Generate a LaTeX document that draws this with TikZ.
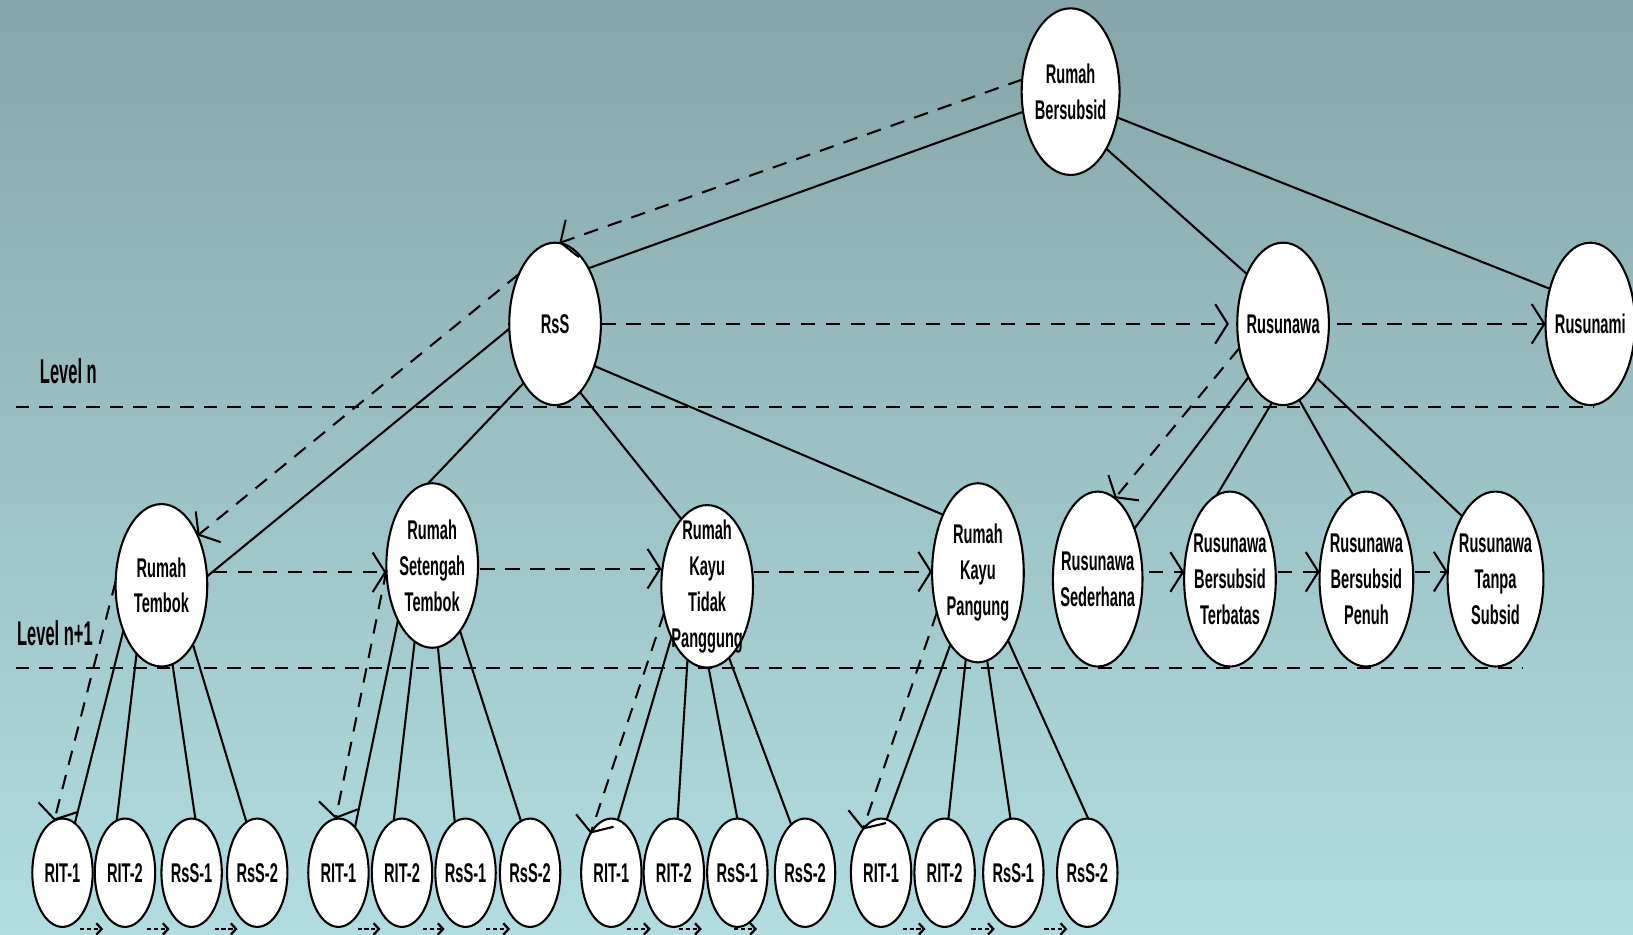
\documentclass[tikz,border=0pt]{standalone}
\usepackage{fontspec}
\newfontfamily\lblfont{Liberation Sans}[FakeStretch=0.54]
\newfontfamily\lvlfont{Liberation Sans}[FakeStretch=0.48]
\usetikzlibrary{shapes.geometric,arrows.meta,calc}
\definecolor{bgtop}{RGB}{134,166,169}
\definecolor{bgbot}{RGB}{177,221,225}
\tikzset{
  oval/.style 2 args={ellipse, draw=black, line width=1pt, fill=white,
    inner sep=0pt, outer sep=0pt, minimum width=#1*0.5pt, minimum height=#2*0.5pt},
  big/.style={oval={88}{156}},
  leaf/.style={oval={58}{104}},
  txt/.style={font=\lblfont\bfseries\fontsize{13}{17.2}\selectfont,
    align=center, inner sep=0pt},
  lvltxt/.style={font=\lvlfont\bfseries\fontsize{16.5}{20}\selectfont,
    inner sep=0pt, anchor=west},
  edge/.style={line width=1pt},
  darr/.style={line width=1pt, dash pattern=on 7pt off 5pt,
    -{Straight Barb[length=6pt,width=19pt]}},
  tarr/.style={line width=1.1pt, dash pattern=on 2pt off 1.3pt,
    -{Straight Barb[length=2.5pt,width=5.5pt]}},
  lvl/.style={line width=1pt, dash pattern=on 6.5pt off 4.8pt},
}
\begin{document}
\begin{tikzpicture}[x=0.5pt,y=-0.5pt]
\useasboundingbox (0,0) rectangle (1568,897);
\clip (0,0) rectangle (1568,897);
\shade[top color=bgtop,bottom color=bgbot] (0,0) rectangle (1568,897);

% level separators
\draw[lvl] (15,391) -- (1530,391);
\draw[lvl] (15,641) -- (1462,641);
\node[lvltxt] (lvn) at (38,356) {Level n};
\node[lvltxt] (lvn1) at (16,608) {Level n+1};

% top levels
\node[oval={94}{160}] (rb) at (1028,88) {};
\node[big] (rss) at (533,311) {};
\node[big] (rsw) at (1232,311) {};
\node[oval={86}{156}] (rsm) at (1527,311) {};

% second level
\node[big] (rt) at (155,562) {};
\node[oval={88}{158}] (rst) at (415,543) {};
\node[big] (rktp) at (679,563) {};
\node[oval={88}{172}] (rkp) at (939,550) {};
\node[oval={86}{168}] (rs) at (1054,556) {};
\node[oval={88}{168}] (rbt) at (1181,556) {};
\node[oval={90}{168}] (rbp) at (1312,556) {};
\node[oval={92}{168}] (rts) at (1436,556) {};

% leaves
\foreach \n/\x in {a1/60,a2/120,a3/184,a4/247,
                   b1/325,b2/386,b3/447,b4/509,
                   c1/587,c2/647,c3/708,c4/773,
                   d1/846,d2/907,d3/973,d4/1044}
  \node[leaf] (\n) at (\x,838) {};

% labels
\node[txt] (rbl) at (rb) {Rumah\\Bersubsid};
\node[txt] (rssl) at (rss) {RsS};
\node[txt] (rswl) at (rsw) {Rusunawa};
\node[txt] (rsml) at (rsm) {Rusunami};
\node[txt] (rtl) at (rt) {Rumah\\Tembok};
\node[txt] (rstl) at (rst) {Rumah\\Setengah\\Tembok};
\node[txt] (rktpl) at (rktp) {Rumah\\Kayu\\Tidak\\Panggung};
\node[txt] (rkpl) at (rkp) {Rumah\\Kayu\\Pangung};
\node[txt] (rsl) at (rs) {Rusunawa\\Sederhana};
\node[txt] (rbtl) at (rbt) {Rusunawa\\Bersubsid\\Terbatas};
\node[txt] (rbpl) at (rbp) {Rusunawa\\Bersubsid\\Penuh};
\node[txt] (rtsl) at (rts) {Rusunawa\\Tanpa\\Subsid};
\foreach \g in {a,b,c,d}{
  \node[txt] at (\g1) {RIT-1};
  \node[txt] at (\g2) {RIT-2};
  \node[txt] at (\g3) {RsS-1};
  \node[txt] at (\g4) {RsS-2};
}

% tree edges
\draw[edge] (rb.203) -- (rss.59.5);
\draw[edge] (rb.302) -- (rsw.126.7);
\draw[edge] (rb.331) -- (rsm.139);
\draw[edge] (rss.186.6) -- (rt.11.3);
\draw[edge] (rss.242) -- (rst.93);
\draw[edge] (rss.290) -- (rktp.111);
\draw[edge] (rss.313) -- (rkp.121);
\draw[edge] (rsw.237) -- (rs.54);
\draw[edge] (rsw.262) -- (rbt.99.5);
\draw[edge] (rsw.282) -- (rbp.99.5);
\draw[edge] (rsw.302) -- (rts.118.6);

\draw[edge] (rt.230) -- (a1.76);
\draw[edge] (rt.250) -- (a2.99);
\draw[edge] (rt.278) -- (a3.86);
\draw[edge] (rt.298) -- (a4.102);
\draw[edge] (rst.238) -- (b1.70.5);
\draw[edge] (rst.257) -- (b2.99);
\draw[edge] (rst.274) -- (b3.102.6);
\draw[edge] (rst.293) -- (b4.100);
\draw[edge] (rktp.235) -- (c1.83);
\draw[edge] (rktp.255) -- (c2.86.5);
\draw[edge] (rktp.271.5) -- (c3.90);
\draw[edge] (rktp.287) -- (c4.106);
\draw[edge] (rkp.249) -- (d1.84);
\draw[edge] (rkp.262) -- (d2.86.5);
\draw[edge] (rkp.276) -- (d3.93);
\draw[edge] (rkp.294) -- (d4.89);

% traversal arrows
\draw[darr] (rb.166.5) -- (rss.87);
\draw[darr, shorten >=4pt] (rss.0) -- (rsw.180);
\draw[darr, shorten <=4pt] (rsw.0) -- (rsm.180);
\draw[darr] (rss.126) -- (rt.54);
\draw[darr, shorten <=3pt] (rt.16) -- (rt.16 -| rst.west);
\draw[darr, shorten <=1pt] (rst.356) -- (rst.356 -| rktp.west);
\draw[darr, shorten <=1pt] (rktp.18) -- (rktp.18 -| rkp.west);
\draw[darr] (rsw.209) -- (rs.78);
\draw[darr, shorten <=3pt] (rs.9) -- (rs.9 -| rbt.west);
\draw[darr, shorten <=1pt] (rbt.9) -- (rbt.9 -| rbp.west);
\draw[darr, shorten <=1pt] (rbp.9) -- (rbp.9 -| rts.west);
\draw[darr] (rt.175) -- (a1.99);
\draw[darr] (rst.186) -- (b1.93);
\draw[darr] (rktp.212) -- (c1.118);
\draw[darr] (rkp.224) -- (d1.113);

% small arrows along the leaf row
\foreach \p/\q/\f/\h in {a1/a2/.28/.65, a2/a3/.33/.67, a3/a4/.35/.70,
                         b1/b2/.30/.66, b2/b3/.33/.67, b3/b4/.32/.69,
                         c1/c2/.25/.63, c2/c3/.08/.44, c3/c4/-.05/.29,
                         d1/d2/.34/.70, d2/d3/.39/.73, d3/d4/.42/.73}
  \draw[tarr] ($(\p.south)!\f!(\q.south)+(0,2)$) -- ($(\p.south)!\h!(\q.south)+(0,2)$);
\end{tikzpicture}
\end{document}
